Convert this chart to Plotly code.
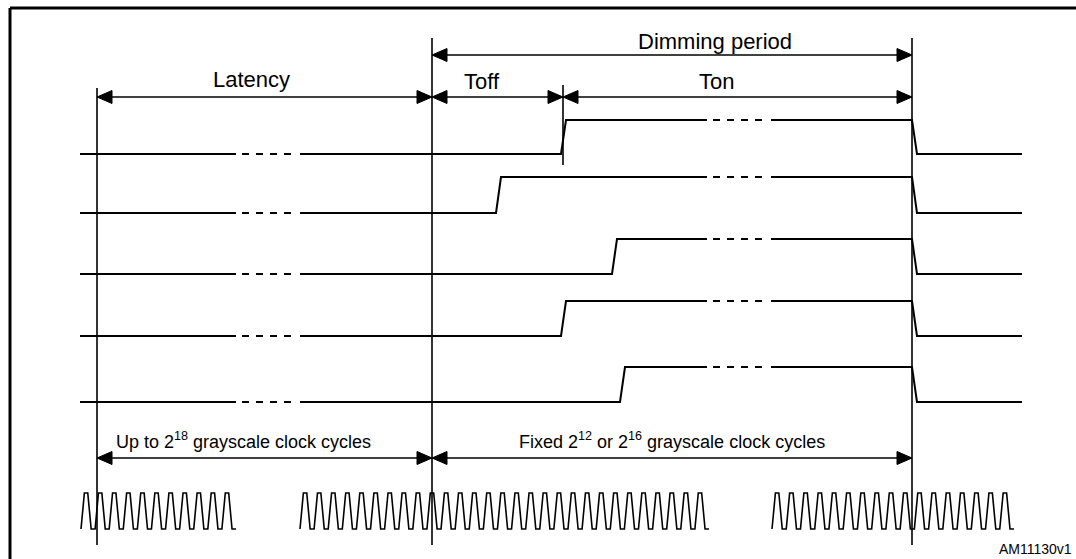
import plotly.graph_objects as go

# ---- data (diagram units: x = time axis, y = vertical position, top-down) ----
marker_x = [97, 432, 563, 912]            # latency start, dimming start, Toff end, dimming end
marker_top = [88, 38, 85, 38]
marker_bottom = [545, 545, 165, 545]

channel_low = [154, 213, 274, 336, 402]
channel_high = [120, 177, 239, 301, 367]
channel_rise = [561, 496, 612, 561, 620]   # start of rising edge
edge_width = 5
line_start = 80
line_end = 1022
low_gap = [236, 300]        # break in the low level (latency)
low_dash = [242, 292]
high_gap = [707, 771]       # break in the high level
high_dash = [713, 767]
fall_x = 912

clock_groups = [(81, 236, 11), (300, 709, 29), (772, 1014, 17)]  # start, end, cycles
clock_top = 493
clock_bottom = 529

top_arrows = [  # (x0, x1, y)
    (432, 912, 55),
    (97, 432, 97),
    (432, 563, 97),
    (563, 912, 97),
]
bottom_arrows = [(97, 432, 458), (432, 912, 458)]
head_len = 15
head_half = 6.5

labels = [
    ("Dimming period", 715, 41, 22),
    ("Latency", 251, 79, 22),
    ("Toff", 482, 81, 22),
    ("Ton", 716, 81, 22),
    ("Up to 2<sup>18</sup> grayscale clock cycles", 243, 440, 18),
    ("Fixed 2<sup>12</sup> or 2<sup>16</sup> grayscale clock cycles", 672, 440, 18),
]
footnote = "AM11130v1"

FONT = "Liberation Sans, Arial, sans-serif"

fig = go.Figure()

# vertical markers
vx, vy = [], []
for x, t, b in zip(marker_x, marker_top, marker_bottom):
    vx += [x, x, None]
    vy += [t, b, None]
fig.add_trace(go.Scatter(x=vx, y=vy, mode="lines", line=dict(color="black", width=1.6), hoverinfo="skip"))

# channels
for lo, hi, r in zip(channel_low, channel_high, channel_rise):
    sx = [line_start, low_gap[0], None,
          low_gap[1], r, r + edge_width, high_gap[0], None,
          high_gap[1], fall_x, fall_x + edge_width, line_end]
    sy = [lo, lo, None,
          lo, lo, hi, hi, None,
          hi, hi, lo, lo]
    fig.add_trace(go.Scatter(x=sx, y=sy, mode="lines", line=dict(color="black", width=2),
                             hoverinfo="skip"))
    dx = [low_dash[0], low_dash[1], None, high_dash[0], high_dash[1]]
    dy = [lo, lo, None, hi, hi]
    fig.add_trace(go.Scatter(x=dx, y=dy, mode="lines",
                             line=dict(color="black", width=2, dash="7px,7px"), hoverinfo="skip"))

# clock
cx, cy = [], []
for a, b, n in clock_groups:
    p = (b - a) / n
    for i in range(n):
        x0 = a + i * p
        cx += [x0, x0 + 0.24 * p, x0 + 0.48 * p, x0 + 0.72 * p]
        cy += [clock_bottom, clock_top, clock_top, clock_bottom]
    cx += [b, None]
    cy += [clock_bottom, None]
fig.add_trace(go.Scatter(x=cx, y=cy, mode="lines", line=dict(color="black", width=1.6),
                         hoverinfo="skip"))

# dimension arrows: shafts + filled heads
ax_, ay_ = [], []
hx, hy = [], []
for x0, x1, y in top_arrows + bottom_arrows:
    ax_ += [x0 + 2, x1 - 2, None]
    ay_ += [y, y, None]
    # right head (tip at x1)
    hx += [x1, x1 - head_len, x1 - head_len, x1, None]
    hy += [y, y - head_half, y + head_half, y, None]
    # left head (tip at x0)
    hx += [x0, x0 + head_len, x0 + head_len, x0, None]
    hy += [y, y - head_half, y + head_half, y, None]
fig.add_trace(go.Scatter(x=ax_, y=ay_, mode="lines", line=dict(color="black", width=1.6),
                         hoverinfo="skip"))
fig.add_trace(go.Scatter(x=hx, y=hy, mode="lines", fill="toself", fillcolor="black",
                         line=dict(color="black", width=1), hoverinfo="skip"))

annotations = []
for txt, x, y, s in labels:
    annotations.append(dict(x=x, y=y, xref="x", yref="y", text=txt, showarrow=False,
                            font=dict(family=FONT, size=s, color="black"),
                            xanchor="center", yanchor="middle"))
annotations.append(dict(x=1074, y=549, xref="x", yref="y", text=footnote, showarrow=False,
                        font=dict(family=FONT, size=14, color="black"),
                        xanchor="right", yanchor="middle"))

shapes = [
    dict(type="line", xref="x", yref="y", x0=10, x1=1076, y0=8, y1=8, line=dict(color="black", width=3)),
    dict(type="line", xref="x", yref="y", x0=10, x1=10, y0=8, y1=559, line=dict(color="black", width=3)),
]

fig.update_layout(
    width=1076, height=559,
    margin=dict(l=0, r=0, t=0, b=0),
    paper_bgcolor="white", plot_bgcolor="white",
    showlegend=False,
    xaxis=dict(range=[0, 1076], visible=False, fixedrange=True),
    yaxis=dict(range=[559, 0], visible=False, fixedrange=True),
    annotations=annotations,
    shapes=shapes,
)

fig.write_html("out.html", config={"displayModeBar": False},
               post_script="document.body.style.margin='0';")
